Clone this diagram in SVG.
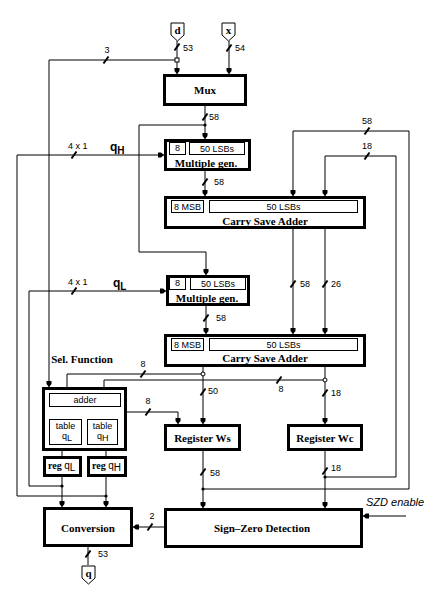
<svg xmlns="http://www.w3.org/2000/svg" width="443" height="591" viewBox="0 0 443 591">
<style>
.bx{fill:#fff;stroke:#000;stroke-width:3}
.ib{fill:#fff;stroke:#000;stroke-width:1}
.ln{fill:none;stroke:#000;stroke-width:1}
.sl{stroke:#000;stroke-width:2}
.bt{font-family:"Liberation Serif",serif;font-weight:bold;font-size:11px;text-anchor:middle}
.st{font-family:"Liberation Sans",sans-serif;font-size:9px}
.sc{font-family:"Liberation Sans",sans-serif;font-size:9px;text-anchor:middle}
.qb{font-family:"Liberation Sans",sans-serif;font-weight:bold;font-size:12px}
</style>
<defs>
<marker id="ah" markerWidth="7" markerHeight="6" refX="6" refY="3" orient="auto" markerUnits="userSpaceOnUse"><path d="M0,0.5 L3,0.5 L6,3 L3,5.5 L0,5.5Z" fill="#000"/></marker>
</defs>
<rect width="443" height="591" fill="#fff"/>
<g id="connectors">
<path class="ln" d="M177,41 V74" marker-end="url(#ah)"/>
<path class="ln" d="M229,41 V74" marker-end="url(#ah)"/>
<path class="ln" d="M177,60 H49 V387" marker-end="url(#ah)"/>
<path class="ln" d="M205,106 V139" marker-end="url(#ah)"/>
<path class="ln" d="M205,125 H139 V252 H206 V275" marker-end="url(#ah)"/>
<path class="ln" d="M106,477 V507" marker-end="url(#ah)"/>
<path class="ln" d="M106,496 H17 V155 H164" marker-end="url(#ah)"/>
<path class="ln" d="M62,477 V507" marker-end="url(#ah)"/>
<path class="ln" d="M62,486 H29 V291 H166" marker-end="url(#ah)"/>
<path class="ln" d="M205,171 V196" marker-end="url(#ah)"/>
<path class="ln" d="M293,229 V334" marker-end="url(#ah)"/>
<path class="ln" d="M325,229 V334" marker-end="url(#ah)"/>
<path class="ln" d="M206,306 V334" marker-end="url(#ah)"/>
<path class="ln" d="M203,451 V508" marker-end="url(#ah)"/>
<path class="ln" d="M203,489 H409 V131 H293 V196" marker-end="url(#ah)"/>
<path class="ln" d="M325,451 V508" marker-end="url(#ah)"/>
<path class="ln" d="M325,477 H396 V156 H325 V196" marker-end="url(#ah)"/>
<path class="ln" d="M203,367 V424" marker-end="url(#ah)"/>
<path class="ln" d="M325,367 V424" marker-end="url(#ah)"/>
<path class="ln" d="M203,374 H67 V393"/>
<path class="ln" d="M325,380 H104 V393"/>
<path class="ln" d="M104,406 V419"/>
<path class="ln" d="M65,419 V412 H178 V424" marker-end="url(#ah)"/>
<path class="ln" d="M62,444 V456"/>
<path class="ln" d="M106,444 V456"/>
<path class="ln" d="M88,547 V565"/>
<path class="ln" d="M164,527 H133" marker-end="url(#ah)"/>
<path class="ln" d="M406,516 H363" marker-end="url(#ah)"/>
<!-- bus slashes -->
<g class="sl">
<line x1="174.5" y1="50.5" x2="179.5" y2="43.5"/>
<line x1="226.5" y1="51.5" x2="231.5" y2="44.5"/>
<line x1="103.5" y1="63.5" x2="108.5" y2="56.5"/>
<line x1="202.5" y1="120.5" x2="207.5" y2="113.5"/>
<line x1="71.5" y1="158.5" x2="76.5" y2="151.5"/>
<line x1="202.5" y1="185.5" x2="207.5" y2="178.5"/>
<line x1="364.5" y1="134.5" x2="369.5" y2="127.5"/>
<line x1="364.5" y1="159.5" x2="369.5" y2="152.5"/>
<line x1="290.5" y1="287.5" x2="295.5" y2="280.5"/>
<line x1="322.5" y1="287.5" x2="327.5" y2="280.5"/>
<line x1="71.5" y1="294.5" x2="76.5" y2="287.5"/>
<line x1="203.5" y1="321.5" x2="208.5" y2="314.5"/>
<line x1="140.5" y1="377.5" x2="145.5" y2="370.5"/>
<line x1="276.5" y1="383.5" x2="281.5" y2="376.5"/>
<line x1="200.5" y1="395.5" x2="205.5" y2="388.5"/>
<line x1="322.5" y1="396.5" x2="327.5" y2="389.5"/>
<line x1="145.5" y1="415.5" x2="150.5" y2="408.5"/>
<line x1="200.5" y1="475.5" x2="205.5" y2="468.5"/>
<line x1="322.5" y1="474.5" x2="327.5" y2="467.5"/>
<line x1="147.5" y1="530.5" x2="152.5" y2="523.5"/>
<line x1="85.5" y1="557.5" x2="90.5" y2="550.5"/>
</g>
<!-- junctions -->
<rect x="175" y="58" width="4" height="4" fill="#fff" stroke="#000" stroke-width="1"/>
<circle cx="203" cy="374" r="2" fill="#fff" stroke="#000" stroke-width="1"/>
<circle cx="325" cy="380" r="2" fill="#fff" stroke="#000" stroke-width="1"/>
<g fill="#000">
<circle cx="205" cy="125" r="1.6"/>
<circle cx="104" cy="412" r="1.6"/>
<circle cx="62" cy="486" r="1.6"/>
<circle cx="106" cy="496" r="1.6"/>
<circle cx="203" cy="489" r="1.6"/>
<circle cx="325" cy="477" r="1.6"/>
</g>
<!-- bus labels -->
<g class="st">
<text x="183" y="51">53</text>
<text x="235" y="51">54</text>
<text x="209" y="120">58</text>
<text x="214" y="185">58</text>
<text x="300" y="287">58</text>
<text x="331" y="287">26</text>
<text x="216" y="321">58</text>
<text x="208" y="394">50</text>
<text x="331" y="396">18</text>
<text x="210" y="476">58</text>
<text x="331" y="471">18</text>
<text x="98" y="557">53</text>
<text x="68" y="149">4 x 1</text>
<text x="68" y="285">4 x 1</text>
</g>
<g class="sc">
<text x="107" y="53">3</text>
<text x="367" y="124">58</text>
<text x="367" y="149">18</text>
<text x="143" y="367">8</text>
<text x="281" y="392">8</text>
<text x="148" y="404">8</text>
<text x="152" y="519">2</text>
</g>
<text class="qb" x="110" y="151">q<tspan font-size="10" dy="3">H</tspan></text>
<text class="qb" x="113" y="287">q<tspan font-size="10" dy="3">L</tspan></text>
<text x="366" y="506" font-family="Liberation Sans, sans-serif" font-style="italic" font-size="11">SZD enable</text>
</g>
<g id="in-d">
<path class="ib" d="M171,23 H184 V35 L177.5,41 L171,35 Z"/>
<text class="bt" x="177.5" y="34" font-size="10">d</text>
</g>
<g id="in-x">
<path class="ib" d="M222,23 H235 V35 L228.5,41 L222,35 Z"/>
<text class="bt" x="228.5" y="34" font-size="10">x</text>
</g>
<g id="mux">
<rect class="bx" x="164.5" y="75.5" width="81" height="29"/>
<text class="bt" x="205" y="94">Mux</text>
</g>
<g id="mg1">
<rect class="bx" x="165.5" y="140.5" width="84" height="29"/>
<rect class="ib" x="169.5" y="142.5" width="16" height="12"/>
<rect class="ib" x="189.5" y="142.5" width="55" height="12"/>
<text class="sc" x="177.5" y="151">8</text>
<text class="sc" x="217" y="152">50 LSBs</text>
<text class="bt" x="206" y="167">Multiple gen.</text>
</g>
<g id="csa1">
<rect class="bx" x="165.5" y="197.5" width="199" height="30"/>
<rect class="ib" x="171.5" y="200.5" width="32" height="12"/>
<rect class="ib" x="209.5" y="200.5" width="148" height="12"/>
<text class="sc" x="187.5" y="210">8 MSB</text>
<text class="sc" x="283.5" y="210">50 LSBs</text>
<text class="bt" x="265" y="225">Carry Save Adder</text>
</g>
<g id="mg2">
<rect class="bx" x="167.5" y="276.5" width="81" height="28"/>
<rect class="ib" x="169.5" y="277.5" width="16" height="12"/>
<rect class="ib" x="190.5" y="277.5" width="55" height="12"/>
<text class="sc" x="177.5" y="286">8</text>
<text class="sc" x="218" y="287">50 LSBs</text>
<text class="bt" x="207" y="302">Multiple gen.</text>
</g>
<g id="csa2">
<rect class="bx" x="165.5" y="335.5" width="199" height="30"/>
<rect class="ib" x="171.5" y="338.5" width="32" height="12"/>
<rect class="ib" x="209.5" y="338.5" width="148" height="12"/>
<text class="sc" x="187.5" y="348">8 MSB</text>
<text class="sc" x="283.5" y="348">50 LSBs</text>
<text class="bt" x="265" y="362">Carry Save Adder</text>
</g>
<g id="sel">
<text class="bt" x="82" y="363">Sel. Function</text>
<rect class="bx" x="43.5" y="388.5" width="82" height="61"/>
<rect class="ib" x="49.5" y="393.5" width="71" height="13"/>
<text class="sc" x="85" y="403">adder</text>
<rect class="ib" x="49.5" y="419.5" width="32" height="25"/>
<rect class="ib" x="87.5" y="419.5" width="30" height="25"/>
<text class="sc" x="65.5" y="429">table</text>
<text class="st" x="62" y="439">q<tspan dy="2">L</tspan></text>
<text class="sc" x="102.5" y="429">table</text>
<text class="st" x="97" y="439">q<tspan dy="2">H</tspan></text>
</g>
<g id="regqL">
<rect class="bx" x="44.5" y="457.5" width="36" height="18"/>
<text x="48" y="469" font-family="Liberation Serif, serif" font-weight="bold" font-size="10">reg <tspan font-family="Liberation Sans, sans-serif" font-weight="normal">q<tspan dy="2">L</tspan></tspan></text>
</g>
<g id="regqH">
<rect class="bx" x="88.5" y="457.5" width="37" height="18"/>
<text x="92" y="469" font-family="Liberation Serif, serif" font-weight="bold" font-size="10">reg <tspan font-family="Liberation Sans, sans-serif" font-weight="normal">q<tspan dy="2">H</tspan></tspan></text>
</g>
<g id="regWs">
<rect class="bx" x="165.5" y="425.5" width="74" height="24"/>
<text class="bt" x="202.5" y="442">Register Ws</text>
</g>
<g id="regWc">
<rect class="bx" x="288.5" y="425.5" width="73" height="24"/>
<text class="bt" x="325" y="442">Register Wc</text>
</g>
<g id="conversion">
<rect class="bx" x="44.5" y="508.5" width="87" height="37"/>
<text class="bt" x="88" y="532">Conversion</text>
</g>
<g id="szd">
<rect class="bx" x="165.5" y="509.5" width="196" height="37"/>
<text class="bt" x="262" y="532">Sign–Zero Detection</text>
</g>
<g id="out-q">
<path class="ib" d="M82,566 H95 V578 L88.5,584 L82,578 Z"/>
<text class="bt" x="88.5" y="577" font-size="10">q</text>
</g>
</svg>
